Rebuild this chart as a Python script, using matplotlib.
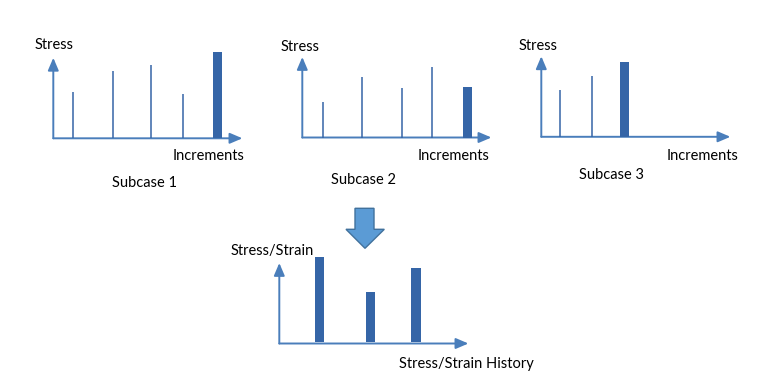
import matplotlib
matplotlib.use("Agg")
import matplotlib.pyplot as plt
from matplotlib.patches import Polygon

plt.rcParams['font.family'] = ['Lato', 'DejaVu Sans']

W, H = 766, 391
BAR_C = '#3565A7'
AXIS_C = '#4A7EBB'

# ---- data ----
sub1_inc = [0.6, 1.81, 2.97, 3.94]
sub1_stress = [4.6, 6.7, 7.3, 4.4]
sub1_bar_inc = [4.98]
sub1_bar_stress = [8.6]

sub2_inc = [0.62, 1.80, 3.01, 3.92]
sub2_stress = [3.6, 6.1, 5.0, 7.0]
sub2_bar_inc = [5.0]
sub2_bar_stress = [5.1]

sub3_inc = [0.58, 1.55]
sub3_stress = [4.7, 6.1]
sub3_bar_inc = [2.52]
sub3_bar_stress = [7.5]

hist_pos = [1.22, 2.76, 4.14]
hist_vals = [8.5, 5.0, 7.4]

subcase_titles = ['Subcase 1', 'Subcase 2', 'Subcase 3']

fig = plt.figure(figsize=(W / 100, H / 100), dpi=100)
fig.patch.set_facecolor('white')

PX_X = 33.0  # pixels per x unit
PX_Y = 10.0  # pixels per y unit


def make_ax(x0, y0):
    w, h = 200, 92
    ax = fig.add_axes([x0 / W, (H - y0) / H, w / W, h / H])
    ax.set_xlim(0, w / PX_X)
    ax.set_ylim(0, h / PX_Y)
    ax.axis('off')
    # axes with arrows
    ap = dict(arrowstyle='-|>,head_length=0.75,head_width=0.32', color=AXIS_C,
              lw=1.4, shrinkA=0, shrinkB=0)
    ax.annotate('', xy=(5.73, 0), xytext=(0, 0), arrowprops=ap, annotation_clip=False)
    ax.annotate('', xy=(0, 8.05), xytext=(0, 0), arrowprops=ap, annotation_clip=False)
    return ax


def text_px(x, y, s, size=10.5):
    fig.text(x / W, (H - y) / H, s, ha='center', va='center', fontsize=size, color='black')


origins = [(53.3, 138.3), (302.3, 137.5), (541.3, 136.8)]
lines = [(sub1_inc, sub1_stress, sub1_bar_inc, sub1_bar_stress),
         (sub2_inc, sub2_stress, sub2_bar_inc, sub2_bar_stress),
         (sub3_inc, sub3_stress, sub3_bar_inc, sub3_bar_stress)]

for (x0, y0), (li, ls, bi, bs) in zip(origins, lines):
    ax = make_ax(x0, y0)
    ax.vlines(li, 0, ls, color=BAR_C, lw=1.1, zorder=3)
    ax.bar(bi, bs, width=0.29, color=BAR_C, zorder=3)

# history chart
axh = make_ax(279.3, 343.5)
axh.bar(hist_pos, hist_vals, width=0.29, color=BAR_C, zorder=3, bottom=0.15)

# labels
text_px(54, 45, 'Stress')
text_px(208.5, 156, 'Increments')
text_px(144, 183, subcase_titles[0])
text_px(300.3, 47.3, 'Stress')
text_px(453.8, 155.7, 'Increments')
text_px(363.3, 180, subcase_titles[1])
text_px(538.3, 46, 'Stress')
text_px(702.8, 156, 'Increments')
text_px(611.7, 175, subcase_titles[2])
text_px(271.7, 250.7, 'Stress/Strain')
text_px(466.7, 364.3, 'Stress/Strain History')

# big down arrow
ov = fig.add_axes([0, 0, 1, 1], zorder=-1)
ov.set_xlim(0, W)
ov.set_ylim(H, 0)
ov.axis('off')
arrow_pts = [(355, 208.3), (374, 208.3), (374, 229.3), (384.3, 229.3), (365, 248.3),
             (346, 229.3), (355, 229.3)]
ov.add_patch(Polygon(arrow_pts, closed=True, facecolor='#5B9BD5', edgecolor='#41719C', lw=1.0))

fig.savefig('out.png', dpi=100, facecolor='white')
